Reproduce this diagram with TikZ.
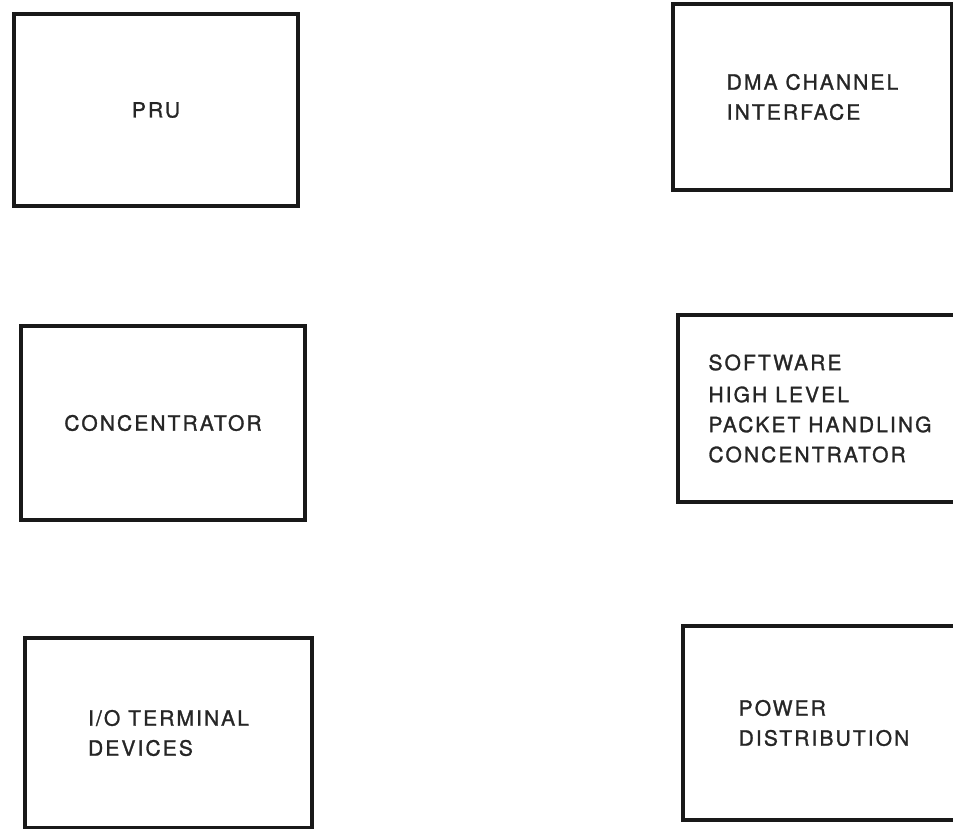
\documentclass[tikz,border=0pt]{standalone}
\usepackage{fontspec}
\usepackage{tikz}
\newfontfamily\boxfont[LetterSpace=10,FakeBold=1.3]{TeX Gyre Heros}

\begin{document}
\begin{tikzpicture}[x=1pt, y=-1pt,
		unit/.style={draw=black!90, line width=3.2pt, align=left, inner sep=0pt, text=black!85,
			font=\boxfont\fontsize{21}{30}\selectfont}]
		\useasboundingbox (0,0) rectangle (953,829);
		\clip (0,0) rectangle (953,829);
		% left column
		\node[unit, minimum width=284pt, minimum height=192pt] (pru) at (156,110) {PRU};
		\node[unit, minimum width=284pt, minimum height=194pt] (conc) at (163,423) {CONCENTRATOR};
		\node[unit, minimum width=287pt, minimum height=190pt] (term) at (168.5,733) {I/O TERMINAL\\DEVICES};
		% right column
		\node[unit, minimum width=279pt, minimum height=186pt] (dma) at (812.5,97) {DMA CHANNEL\\INTERFACE};
		\node[unit, minimum width=284pt, minimum height=187pt] (soft) at (820,408.5) {SOFTWARE\\[2pt]HIGH LEVEL\\PACKET HANDLING\\CONCENTRATOR};
		\node[unit, minimum width=282pt, minimum height=194pt] (power) at (824,723) {POWER\\DISTRIBUTION};
	\end{tikzpicture}
\end{document}
